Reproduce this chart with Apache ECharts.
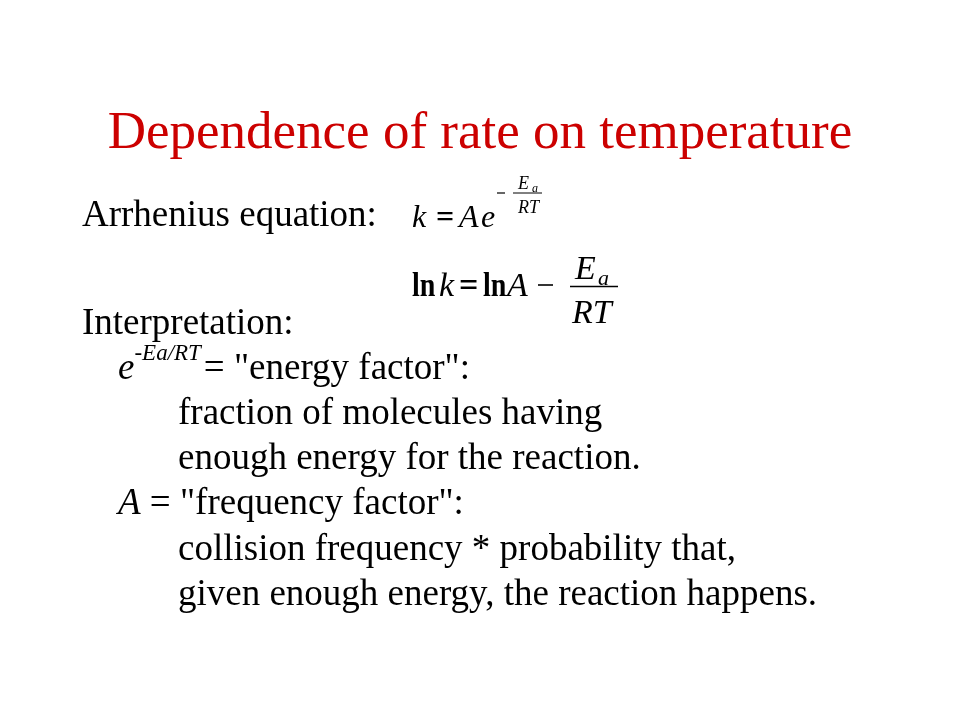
<!DOCTYPE html>
<html>
<head>
<meta charset="utf-8">
<script src="https://cdn.jsdelivr.net/npm/echarts@6/dist/echarts.min.js"></script>
<style>
html, body { margin: 0; background: #fff; }
#container { width: 960px; height: 720px; }
</style>
</head>
<body>
<div id="container"></div>
<script>
// slide text
var titleText = 'Dependence of rate on temperature';
var arrheniusLabel = 'Arrhenius equation:';
var interpretationLabel = 'Interpretation:';
var energyFactorName = '= "energy factor":';
var energyFactorLines = ['fraction of molecules having', 'enough energy for the reaction.'];
var frequencyFactorName = ' = "frequency factor":';
var frequencyFactorLines = ['collision frequency * probability that,', 'given enough energy, the reaction happens.'];

var FAMILY = '"Liberation Serif", "Times New Roman", serif';
var MID = 0.19; // distance from baseline to the 'middle' anchor, in em
var ctx = document.createElement('canvas').getContext('2d');

function font(size, style) {
    return (style ? style + ' ' : '') + size + 'px ' + FAMILY;
}
function measure(text, f) {
    ctx.font = f;
    return ctx.measureText(text).width;
}

var elements = [];

// place one text run by its baseline, returns the x after it
function put(text, x, baseline, size, style, fill, align, sx) {
    sx = sx || 1;
    elements.push({
        type: 'text',
        silent: true,
        x: x,
        y: baseline - MID * size,
        scaleX: sx,
        style: {
            text: text,
            x: 0,
            y: 0,
            font: font(size, style),
            fill: fill || '#000',
            align: align || 'left',
            verticalAlign: 'middle'
        }
    });
    return x + measure(text, font(size, style)) * sx;
}

function hline(x1, x2, y, width) {
    elements.push({
        type: 'line',
        silent: true,
        shape: { x1: x1, y1: y, x2: x2, y2: y },
        style: { stroke: '#000', lineWidth: width || 1.5 }
    });
}

// title
put(titleText, 480, 144, 53, '', '#cc0000', 'center');

// Arrhenius equation: k = A e^(-Ea/RT)
put(arrheniusLabel, 82, 223, 37, '');
put('k', 412, 225, 32, 'italic');
put('=', 436, 225, 32, 'bold');
put('A', 459, 225, 32, 'italic');
put('e', 481, 225, 32, 'italic');
hline(497, 505, 193, 1.2);
hline(513, 542, 193, 1);
put('E', 518, 188, 18, 'italic');
put('a', 532, 191, 12, 'italic');
put('RT', 518, 212, 18, 'italic');

// ln k = ln A - Ea/RT
put('ln', 412, 294, 33, 'bold', null, null, 0.85);
put('k', 439, 294, 34, 'italic');
put('=', 459, 294, 34, 'bold');
put('ln', 483, 294, 33, 'bold', null, null, 0.85);
put('A', 507, 294, 34, 'italic');
hline(538, 553, 285, 1.6);
hline(570, 618, 286.5, 1.5);
put('E', 575, 277, 34, 'italic');
put('a', 598, 283, 22, 'italic');
put('RT', 572, 321, 34, 'italic');

// interpretation block
var lineGap = 45.2;
var base = 331;
put(interpretationLabel, 82, base, 37, '');
base += lineGap;
var x = put('e', 118, base, 37, 'italic');
x = put('-', x, base - 18, 23, '');
x = put('E', x, base - 18, 23, 'italic');
x = put('a/RT', x, base - 18, 23, 'italic');
put(energyFactorName, x + 3, base, 37, '');
energyFactorLines.forEach(function (t) {
    base += lineGap;
    put(t, 178, base, 37, '');
});
base += lineGap;
x = put('A', 118, base, 37, 'italic');
put(frequencyFactorName, x, base, 37, '');
frequencyFactorLines.forEach(function (t) {
    base += lineGap;
    put(t, 178, base, 37, '');
});

var dom = document.getElementById('container');
var myChart = echarts.init(dom);
myChart.setOption({
    backgroundColor: '#fff',
    animation: false,
    graphic: { elements: elements }
});
</script>
</body>
</html>
